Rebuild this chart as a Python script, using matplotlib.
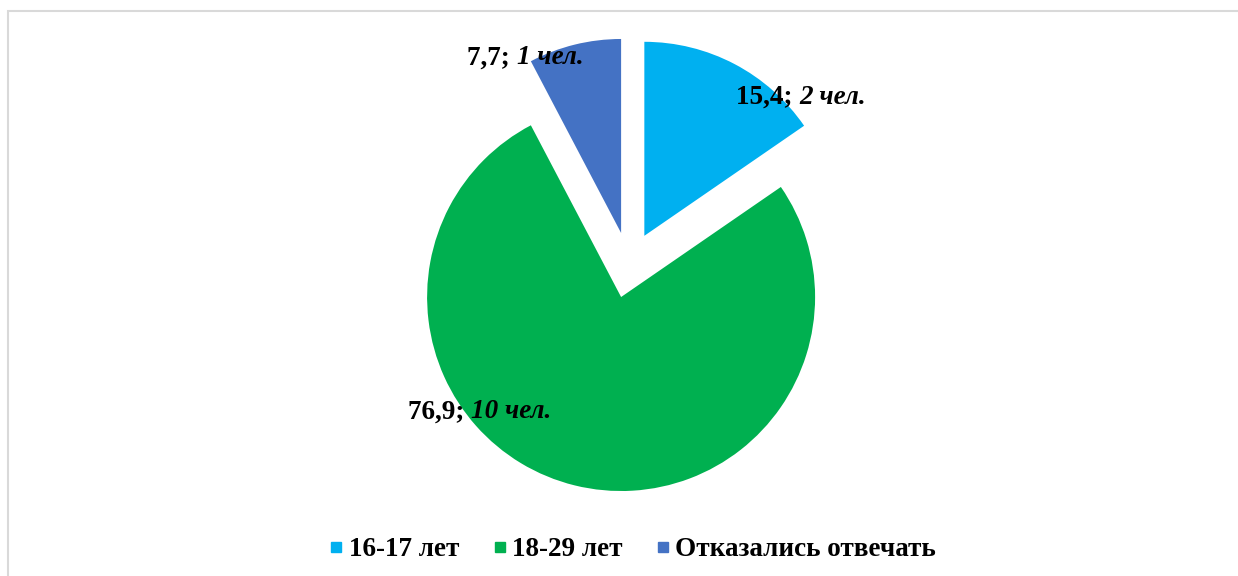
import matplotlib.pyplot as plt
from matplotlib.patches import Rectangle

labels = ['16-17 лет', '18-29 лет', 'Отказались отвечать']
values = [15.4, 76.9, 7.7]
people = [2, 10, 1]
colors = ['#00b0f0', '#00b050', '#4472c4']

plt.rcParams['font.family'] = ['Liberation Serif', 'DejaVu Serif']

fig = plt.figure(figsize=(12.38, 5.76), dpi=100)

# рамка области диаграммы (видны только левая и верхняя стороны)
fig.add_artist(Rectangle((7.5 / 1238, -0.1), 1.2, 1 - 10.5 / 576 + 0.1,
                         transform=fig.transFigure, fill=False,
                         edgecolor='#d9d9d9', linewidth=1.5))

R = 194.0  # радиус в пикселях
cx, cy = 629, 576 - 265
ax = fig.add_axes([0, 0, 1, 1])

wedges, _ = ax.pie(values, colors=colors, startangle=90, counterclock=False,
                   explode=[0.17, 0.17, 0.17], radius=1)

# pie() сбрасывает пределы, поэтому задаём их после
ax.set_xlim(-cx / R, (1238 - cx) / R)
ax.set_ylim(-cy / R, (576 - cy) / R)
ax.axis('off')

# подписи данных: положение в пикселях (граница "; " / "N чел.")
label_pos = [(799, 97), (471, 412), (517, 58)]
for (px, py), v, n in zip(label_pos, values, people):
    x = (px - cx) / R
    y = (576 - py - cy) / R
    num = f'{v:.1f}'.replace('.', ',') + '; '
    t1 = ax.text(x, y, num, fontsize=19.5, fontweight='bold', ha='right', va='center')
    ax.annotate(f'{n} чел.', xycoords=t1, xy=(1, 0.5), va='center', ha='left',
                fontsize=19.5, fontweight='bold', fontstyle='italic')

handles = [plt.Line2D([], [], marker='s', linestyle='none', markersize=7,
                      markerfacecolor=c, markeredgecolor=c) for c in colors]
fig.legend(handles, labels, loc='center', bbox_to_anchor=(0.5105, 1 - 550 / 576),
           ncol=3, frameon=False, prop={'size': 19.5, 'weight': 'bold'},
           handlelength=0.6, handletextpad=0.15, columnspacing=1.2)

plt.savefig('out.png', dpi=100)
